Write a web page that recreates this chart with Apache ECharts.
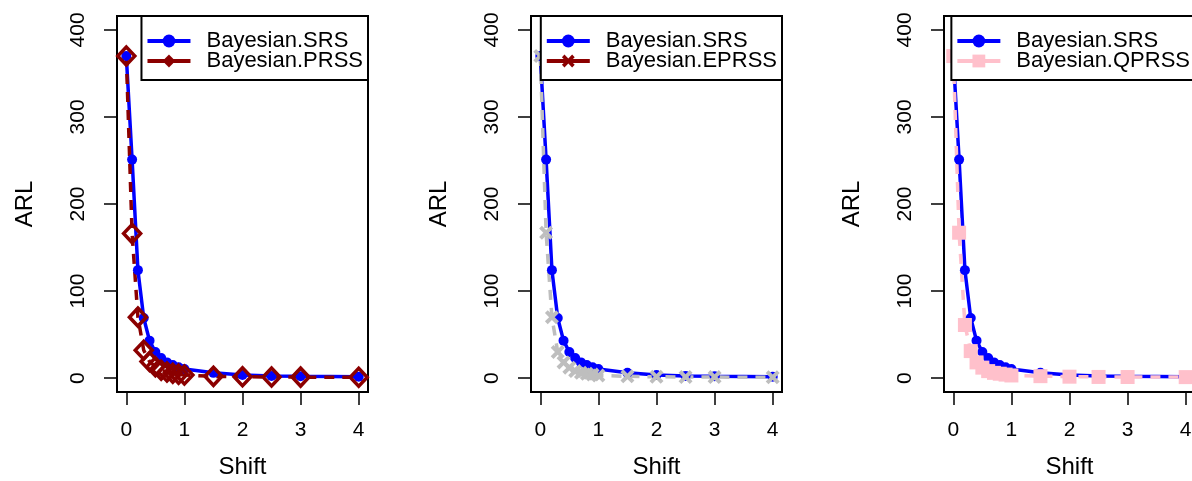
<!DOCTYPE html>
<html>
<head>
<meta charset="utf-8">
<script src="https://cdn.jsdelivr.net/npm/echarts@6/dist/echarts.min.js"></script>
<style>
  html, body { margin: 0; padding: 0; background: #fff; }
  #chart { width: 1192px; height: 481px; }
</style>
</head>
<body>
<div id="chart"></div>
<script>
// data
var shift = [0, 0.1, 0.2, 0.3, 0.4, 0.5, 0.6, 0.7, 0.8, 0.9, 1, 1.5, 2, 2.5, 3, 4];
var arlSRS = [370, 251, 124, 69, 43, 30, 23, 18, 15, 12.5, 10.5, 6, 3.5, 2.5, 2, 1.5];
var arlPRSS = [370, 166, 70, 32, 19, 13, 9, 7, 5.5, 4.5, 3.5, 2, 1.5, 1.2, 1.1, 1];
var arlEPRSS = [370, 167, 70, 30, 18, 12, 8, 6, 5, 4, 3, 2, 1.5, 1.2, 1.1, 1];
var arlQPRSS = [370, 167, 61, 31, 18, 12, 8, 6, 5, 4, 3, 2.2, 1.6, 1.3, 1.2, 1.1];
var xTicks = [0, 1, 2, 3, 4];
var yTicks = [0, 100, 200, 300, 400];

var BLUE = '#0000FF', DARKRED = '#8B0000', GRAY = '#BEBEBE', PINK = '#FFC0CB';
var FONT = '"Liberation Sans", Arial, sans-serif';
var CROSS = 'path://M2,0 L5,3 L8,0 L10,2 L7,5 L10,8 L8,10 L5,7 L2,10 L0,8 L3,5 L0,2 Z';

var panelLeft = [117, 531, 944];
var PANEL_W = 251, PANEL_TOP = 16, PANEL_H = 376;

function pairs(ys) {
  return shift.map(function (x, i) { return [x, ys[i]]; });
}

var grids = [], xAxes = [], yAxes = [], series = [], legends = [];

panelLeft.forEach(function (left, i) {
  grids.push({
    left: left, top: PANEL_TOP, width: PANEL_W, height: PANEL_H,
    outerBoundsMode: 'none', containLabel: false,
    show: true, borderColor: '#000', borderWidth: 2, backgroundColor: 'transparent'
  });
  xAxes.push({
    gridIndex: i, type: 'value', min: -0.16, max: 4.16, position: 'bottom',
    axisLine: { show: false, onZero: false },
    splitLine: { show: false },
    axisTick: { show: true, inside: false, length: 13, customValues: xTicks, lineStyle: { color: '#000', width: 1.5 } },
    axisLabel: { customValues: xTicks, margin: 28, color: '#000', fontSize: 21, fontFamily: FONT },
    name: 'Shift', nameLocation: 'middle', nameGap: 63,
    nameTextStyle: { color: '#000', fontSize: 24, fontFamily: FONT }
  });
  yAxes.push({
    gridIndex: i, type: 'value', min: -16, max: 416, position: 'left',
    axisLine: { show: false, onZero: false },
    splitLine: { show: false },
    axisTick: { show: true, inside: false, length: 13, customValues: yTicks, lineStyle: { color: '#000', width: 1.5 } },
    axisLabel: { customValues: yTicks, rotate: 90, margin: 28, color: '#000', fontSize: 21, fontFamily: FONT },
    name: 'ARL', nameLocation: 'middle', nameGap: 80,
    nameTextStyle: { color: '#000', fontSize: 24, fontFamily: FONT }
  });
  // SRS in every panel, drawn first
  series.push({
    type: 'line', name: 'Bayesian.SRS', xAxisIndex: i, yAxisIndex: i,
    data: pairs(arlSRS),
    symbol: 'circle', symbolSize: 10,
    lineStyle: { color: BLUE, width: 3.5, type: 'solid' },
    itemStyle: { color: BLUE, borderWidth: 0 }
  });
});

series.push({
  type: 'line', name: 'Bayesian.PRSS', xAxisIndex: 0, yAxisIndex: 0,
  data: pairs(arlPRSS),
  symbol: 'diamond', symbolSize: [17, 18],
  lineStyle: { color: DARKRED, width: 3.5, type: [10, 8] },
  itemStyle: { color: 'rgba(255,255,255,0)', borderColor: DARKRED, borderWidth: 3.5 }
});
series.push({
  type: 'line', name: 'Bayesian.EPRSS', xAxisIndex: 1, yAxisIndex: 1,
  data: pairs(arlEPRSS),
  symbol: CROSS, symbolSize: 14,
  lineStyle: { color: GRAY, width: 3.5, type: [10, 8] },
  itemStyle: { color: GRAY, borderWidth: 0 }
});
series.push({
  type: 'line', name: 'Bayesian.QPRSS', xAxisIndex: 2, yAxisIndex: 2,
  data: pairs(arlQPRSS),
  symbol: 'rect', symbolSize: 14,
  lineStyle: { color: PINK, width: 3.5, type: [10, 8] },
  itemStyle: { color: PINK, borderWidth: 0 }
});

function makeLegend(pos, second, color) {
  return Object.assign({
    orient: 'vertical', top: PANEL_TOP,
    itemWidth: 43, itemHeight: 16, itemGap: -2,
    padding: [14, 5, 8, 4],
    backgroundColor: '#fff', borderColor: '#000', borderWidth: 2,
    selectedMode: false,
    textStyle: { color: '#000', fontSize: 22, lineHeight: 20, fontFamily: FONT, padding: [0, 0, 0, 11] },
    data: [
      { name: 'Bayesian.SRS', lineStyle: { type: 'solid', width: 4, color: BLUE } },
      { name: second, itemStyle: { color: color, borderWidth: 0 }, lineStyle: { type: 'solid', width: 4, color: color } }
    ]
  }, pos);
}
legends.push(makeLegend({ right: 1192 - (panelLeft[0] + PANEL_W) }, 'Bayesian.PRSS', DARKRED));
legends.push(makeLegend({ right: 1192 - (panelLeft[1] + PANEL_W) }, 'Bayesian.EPRSS', DARKRED));
legends.push(makeLegend({ right: 1192 - (panelLeft[2] + PANEL_W) }, 'Bayesian.QPRSS', PINK));

var chart = echarts.init(document.getElementById('chart'));
chart.setOption({
  backgroundColor: '#fff',
  animation: false,
  grid: grids,
  xAxis: xAxes,
  yAxis: yAxes,
  legend: legends,
  series: series
});
</script>
</body>
</html>
